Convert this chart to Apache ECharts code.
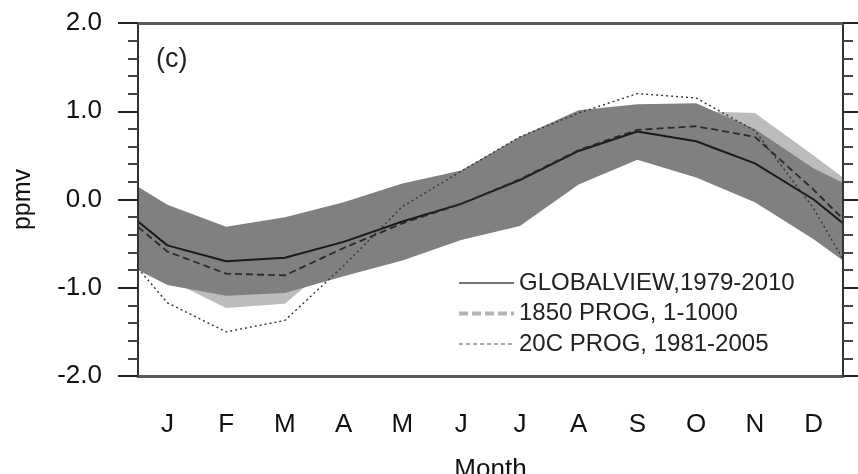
<!DOCTYPE html>
<html>
<head>
<meta charset="utf-8">
<title>(c) ppmv</title>
<script src="https://cdn.jsdelivr.net/npm/echarts@6/dist/echarts.min.js"></script>
<style>
    html, body { margin: 0; padding: 0; background: #fff; }
    #chart { width: 858px; height: 474px; }
</style>
</head>
<body>
<div id="chart"></div>
<script>
// month tick labels
var months = ["J", "F", "M", "A", "M", "J", "J", "A", "S", "O", "N", "D"];
// x positions of the points (months, with half-month ends)
var xs = [0.5, 1, 2, 3, 4, 5, 6, 7, 8, 9, 10, 11, 12, 12.5];

var globalview = [-0.25, -0.52, -0.70, -0.66, -0.48, -0.25, -0.05, 0.22, 0.55, 0.77, 0.66, 0.41, 0.0, -0.27];
var prog1850 = [-0.31, -0.59, -0.84, -0.86, -0.55, -0.27, -0.05, 0.23, 0.56, 0.79, 0.83, 0.71, 0.11, -0.22];
var prog20c = [-0.78, -1.17, -1.50, -1.37, -0.75, -0.08, 0.32, 0.71, 0.98, 1.20, 1.15, 0.78, -0.10, -0.68];

// shaded ranges
var gvUpper = [0.145, -0.06, -0.31, -0.20, -0.03, 0.18, 0.33, 0.71, 1.01, 1.08, 1.09, 0.80, 0.35, 0.19];
var gvLower = [-0.80, -0.97, -1.09, -1.06, -0.87, -0.69, -0.46, -0.30, 0.17, 0.45, 0.25, -0.03, -0.45, -0.69];
var progUpper = [0.0, -0.2, -0.45, -0.45, -0.2, 0.05, 0.25, 0.6, 0.9, 1.0, 1.0, 0.98, 0.50, 0.25];
var progLower = [-0.7, -0.90, -1.23, -1.18, -0.62, -0.5, -0.3, -0.1, 0.3, 0.55, 0.45, 0.3, -0.3, -0.6];

var yTicks = [-2, -1, 0, 1, 2];

var FONT = "Liberation Sans, Arial, Helvetica, sans-serif";

function pairs(vals) {
    return xs.map(function(x, i) { return [x, vals[i]]; });
}

var myChart = echarts.init(document.getElementById("chart"), null, { renderer: "canvas" });

// filled range between two curves, drawn as one polygon through the axes
var band = function(name, top, bot, color) {
    return {
        name: name,
        type: "custom",
        xAxisIndex: 2,
        silent: true,
        clip: true,
        data: xs.map(function(x, i) { return [x, top[i], bot[i]]; }),
        encode: { x: 0, y: [1, 2] },
        renderItem: function(params, api) {
            if (params.dataIndex !== 0) return;
            var pts = [], i;
            for (i = 0; i < xs.length; i++) pts.push(api.coord([xs[i], top[i]]));
            for (i = xs.length - 1; i >= 0; i--) pts.push(api.coord([xs[i], bot[i]]));
            return {
                type: "polygon",
                shape: { points: pts },
                style: { fill: color, stroke: null }
            };
        }
    };
};

var tickStyle = { color: "#222", width: 2 };

myChart.setOption({
    animation: false,
    title: {
        text: "(c)",
        left: 151,
        top: 41,
        textStyle: { fontFamily: FONT, fontSize: 27, fontWeight: "normal", color: "#222" }
    },
    legend: {
        orient: "vertical",
        left: 452,
        top: 266,
        itemWidth: 55,
        itemHeight: 14,
        itemGap: 6.5,
        selectedMode: false,
        textStyle: { fontFamily: FONT, fontSize: 24, color: "#222", lineHeight: 24 },
        data: [
            { name: "GLOBALVIEW,1979-2010", itemStyle: { opacity: 0 }, lineStyle: { color: "#444", width: 1.5, type: "solid" } },
            { name: "1850 PROG, 1-1000", itemStyle: { opacity: 0 }, lineStyle: { color: "#b4b4b4", width: 4, type: [9, 4] } },
            { name: "20C PROG, 1981-2005", itemStyle: { opacity: 0 }, lineStyle: { color: "#555", width: 1.2, type: [4, 3] } }
        ]
    },
    grid: { left: 138, right: 15, top: 23, bottom: 98, outerBoundsMode: "none" },
    xAxis: [{
        type: "category",
        position: "bottom",
        data: months,
        boundaryGap: true,
        z: 10,
        name: "Month",
        nameLocation: "middle",
        nameGap: 81,
        nameTextStyle: { fontFamily: FONT, fontSize: 26, color: "#111" },
        axisLine: { onZero: false, lineStyle: { color: "#5a5a5a", width: 3 } },
        axisTick: { alignWithLabel: true, length: 20, lineStyle: tickStyle },
        axisLabel: { interval: 0, margin: 36, fontFamily: FONT, fontSize: 26, color: "#111" }
    }, {
        type: "category",
        position: "top",
        data: months,
        boundaryGap: true,
        z: 10,
        axisLine: { onZero: false, lineStyle: { color: "#5a5a5a", width: 3 } },
        axisTick: { alignWithLabel: true, length: 20, lineStyle: tickStyle },
        axisLabel: { show: false }
    }, {
        type: "value",
        min: 0.5,
        max: 12.5,
        show: false,
        axisLine: { onZero: false }
    }],
    yAxis: [{
        type: "value",
        position: "left",
        min: yTicks[0],
        max: yTicks[yTicks.length - 1],
        interval: 1,
        z: 10,
        name: "ppmv",
        nameLocation: "middle",
        nameRotate: 90,
        nameGap: 102,
        nameTextStyle: { fontFamily: FONT, fontSize: 25, color: "#111" },
        splitLine: { show: false },
        axisLine: { show: true, onZero: false, lineStyle: { color: "#333", width: 2 } },
        axisTick: { show: true, length: 20, lineStyle: tickStyle },
        minorTick: { show: true, splitNumber: 5, length: 10, lineStyle: { color: "#444", width: 2 } },
        axisLabel: {
            margin: 36, fontFamily: FONT, fontSize: 26, color: "#111",
            formatter: function(v) { return v.toFixed(1); }
        }
    }, {
        type: "value",
        position: "right",
        min: yTicks[0],
        max: yTicks[yTicks.length - 1],
        interval: 1,
        z: 10,
        splitLine: { show: false },
        axisLine: { show: true, onZero: false, lineStyle: { color: "#333", width: 2 } },
        axisTick: { show: true, length: 20, lineStyle: tickStyle },
        minorTick: { show: true, splitNumber: 5, length: 10, lineStyle: { color: "#444", width: 2 } },
        axisLabel: { show: false }
    }],
    series: [
        band("progRange", progUpper, progLower, "#bcbcbc"),
        band("gvRange", gvUpper, gvLower, "#808080"),
        {
            name: "GLOBALVIEW,1979-2010", type: "line", xAxisIndex: 2, data: pairs(globalview),
            symbol: "none", itemStyle: { color: "#1a1a1a" }, lineStyle: { color: "#1a1a1a", width: 2 }
        },
        {
            name: "1850 PROG, 1-1000", type: "line", xAxisIndex: 2, data: pairs(prog1850),
            symbol: "none", itemStyle: { color: "#2a2a2a" }, lineStyle: { color: "#2a2a2a", width: 1.8, type: [7, 4] }
        },
        {
            name: "20C PROG, 1981-2005", type: "line", xAxisIndex: 2, data: pairs(prog20c),
            symbol: "none", itemStyle: { color: "#333" }, lineStyle: { color: "#333", width: 1.4, type: [2, 3] }
        }
    ]
});
</script>
</body>
</html>
